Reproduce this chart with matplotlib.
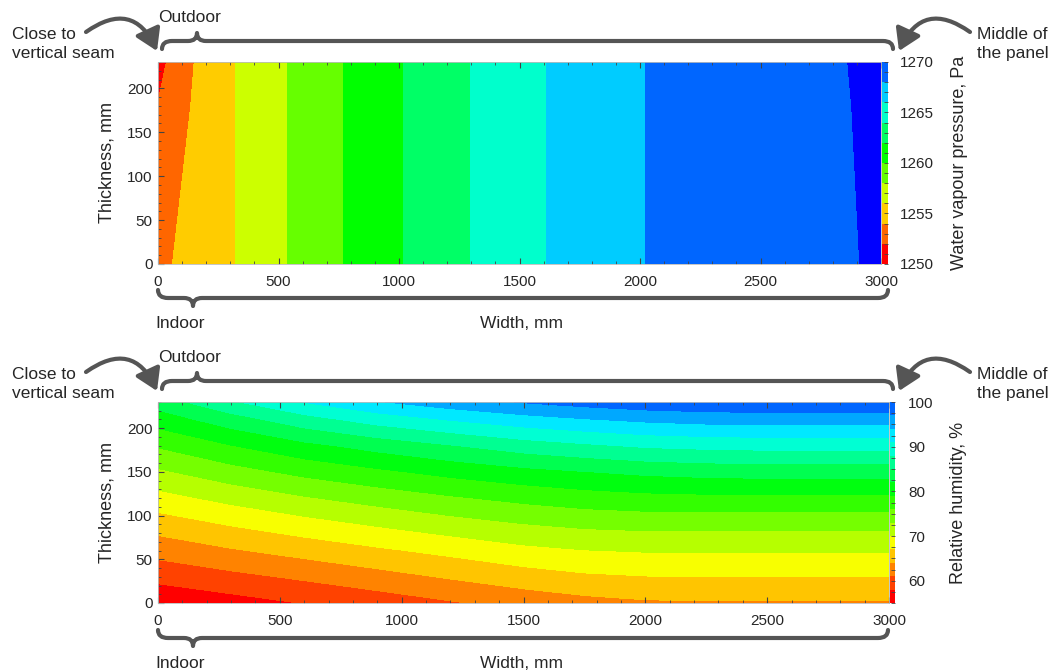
import numpy as np
import matplotlib
matplotlib.use('Agg')
from matplotlib import pyplot as plt
from matplotlib.colors import ListedColormap, BoundaryNorm, hsv_to_rgb
from matplotlib.path import Path
from matplotlib.patches import PathPatch, FancyArrowPatch
from matplotlib.ticker import MultipleLocator
import matplotlib.cm as cm

plt.rcParams['font.family'] = ['Liberation Sans', 'DejaVu Sans']
TXT = '#262626'
DECO = '#555555'

# water vapour pressure, Pa (rows = thickness, cols = width)
vp_width = [0, 35, 60, 150, 320, 537, 766, 1015, 1294, 1610, 2022, 2460, 2870, 2920, 3000]
vp_thick = [0, 180, 230]
vp_values = [
    [1252.6, 1253.2, 1254.0, 1254.7, 1256.0, 1258.0, 1260.0, 1262.0, 1264.0, 1266.0, 1268.0, 1269.0, 1269.9, 1270.02, 1270.3],
    [1252.1, 1252.7, 1253.2, 1254.15, 1256.0, 1258.0, 1260.0, 1262.0, 1264.0, 1266.0, 1268.0, 1269.0, 1269.98, 1270.1, 1270.35],
    [1251.0, 1252.0, 1252.6, 1254.0, 1256.0, 1258.0, 1260.0, 1262.0, 1264.0, 1266.0, 1268.0, 1269.0, 1270.02, 1270.15, 1270.4],
]
vp_levels = [1250, 1252, 1254, 1256, 1258, 1260, 1262, 1264, 1266, 1268, 1270]
vp_ticks = [1250, 1255, 1260, 1265, 1270]

# relative humidity, %
rh_width = [0, 300, 600, 900, 1200, 1500, 1750, 2000, 2250, 2500, 3000]
rh_thick = [0, 30, 60, 90, 120, 150, 180, 210, 230]
rh_values = [
    [55.5, 56.8, 58.1, 59.3, 60.7, 62.1, 63.0, 63.6, 63.7, 63.7, 63.7],
    [58.9, 60.2, 61.5, 62.9, 64.3, 65.6, 66.5, 66.9, 67.0, 67.0, 67.0],
    [62.1, 63.7, 65.1, 66.5, 67.8, 69.2, 69.9, 70.2, 70.2, 70.2, 70.2],
    [65.4, 67.2, 68.8, 70.3, 71.7, 72.9, 73.6, 73.9, 73.9, 73.9, 73.9],
    [68.9, 70.9, 72.7, 74.2, 75.6, 76.8, 77.6, 78.1, 78.3, 78.3, 78.3],
    [72.5, 74.8, 76.8, 78.4, 79.9, 81.1, 81.9, 82.6, 83.0, 83.2, 83.2],
    [76.3, 78.9, 81.2, 83.1, 84.8, 86.5, 87.5, 88.4, 88.8, 89.0, 89.0],
    [80.4, 83.6, 86.8, 89.3, 91.2, 92.8, 93.8, 94.6, 95.1, 95.3, 95.3],
    [83.4, 87.6, 91.1, 93.8, 95.7, 97.2, 98.2, 99.0, 99.4, 99.5, 99.5],
]
rh_levels = [55, 58, 61, 64, 67, 70, 73, 76, 79, 82, 85, 88, 91, 94, 97, 100]
rh_ticks = [60, 70, 80, 90, 100]


def rainbow(n, top_hue):
    hues = np.linspace(0, top_hue, n) / 360.0
    return [hsv_to_rgb((h, 1.0, 1.0)) for h in hues]


fig = plt.figure(figsize=(10.55, 6.72), dpi=100)
W, H = 1055.0, 672.0


def px_axes(x0, y0, x1, y1, **kw):
    return fig.add_axes([x0 / W, 1 - y1 / H, (x1 - x0) / W, (y1 - y0) / H], **kw)


def style_axes(ax):
    ax.set_xlim(0, 3000)
    ax.set_ylim(0, 230)
    ax.xaxis.set_major_locator(MultipleLocator(500))
    ax.xaxis.set_minor_locator(MultipleLocator(100))
    ax.yaxis.set_major_locator(MultipleLocator(50))
    ax.yaxis.set_minor_locator(MultipleLocator(10))
    ax.tick_params(which='both', direction='in', top=True, right=False,
                   colors='#444444', labelcolor=TXT, labelsize=11)
    ax.tick_params(which='major', length=4, width=0.8, pad=8)
    ax.tick_params(which='minor', length=2, width=0.6)
    ax.tick_params(axis='y', pad=4)
    for s in ax.spines.values():
        s.set_color('#bbbbbb')
        s.set_linewidth(0.6)
    ax.set_ylabel('Thickness, mm', fontsize=13, color=TXT, labelpad=8)


def style_cbar(cb, cax, label):
    cb.outline.set_visible(False)
    cax.tick_params(which='both', direction='in', colors='#444444',
                    labelcolor=TXT, labelsize=11, length=3, width=0.6, pad=9)
    cb.set_label(label, fontsize=13, color=TXT, labelpad=12)


# ---- top chart: vapour pressure
ax1 = px_axes(158, 62, 881, 264)
cmap1 = ListedColormap(rainbow(10, 216))
cmap1.set_over(hsv_to_rgb((240 / 360.0, 1, 1)))
cmap1.set_under('red')
ax1.contourf(vp_width, vp_thick, np.array(vp_values), levels=vp_levels,
             cmap=cmap1, extend='both')
style_axes(ax1)
cax1 = px_axes(881.5, 62, 887.5, 264)
sm1 = cm.ScalarMappable(norm=BoundaryNorm(vp_levels, 10), cmap=ListedColormap(rainbow(10, 216)))
cb1 = fig.colorbar(sm1, cax=cax1, ticks=vp_ticks)
cax1.yaxis.set_minor_locator(MultipleLocator(1))
style_cbar(cb1, cax1, 'Water vapour pressure, Pa')

# ---- bottom chart: relative humidity
ax2 = px_axes(158, 402, 889, 603)
cmap2 = ListedColormap(rainbow(15, 216))
ax2.contourf(rh_width, rh_thick, np.array(rh_values), levels=rh_levels, cmap=cmap2)
style_axes(ax2)
cax2 = px_axes(889.5, 402, 895.5, 603)
sm2 = cm.ScalarMappable(norm=BoundaryNorm(rh_levels, 15), cmap=cmap2)
cb2 = fig.colorbar(sm2, cax=cax2, ticks=rh_ticks)
cax2.yaxis.set_minor_locator(MultipleLocator(2.5))
style_cbar(cb2, cax2, 'Relative humidity, %')

# ---- overlay for braces, arrows and notes (pixel coordinates)
ov = px_axes(0, 0, W, H, zorder=-1)
ov.set_xlim(0, W)
ov.set_ylim(H, 0)
ov.axis('off')


def brace(y, x0, x1, xc, d):
    # d = 1: cusp upwards, ends hooking down; d = -1: the opposite
    h = 8
    verts = [(x0, y + h * d), (x0, y), (x0 + 10, y),
             (xc - 9, y), (xc, y), (xc, y - h * d),
             (xc, y), (xc + 9, y),
             (x1 - 10, y), (x1, y), (x1, y + h * d)]
    codes = [Path.MOVETO, Path.CURVE3, Path.CURVE3,
             Path.LINETO, Path.CURVE3, Path.CURVE3,
             Path.CURVE3, Path.CURVE3,
             Path.LINETO, Path.CURVE3, Path.CURVE3]
    ov.add_patch(PathPatch(Path(verts, codes), fill=False, lw=3.0,
                           edgecolor=DECO, capstyle='round', joinstyle='round'))


def curved_arrow(p0, p1, rad):
    ov.add_patch(FancyArrowPatch(p0, p1, connectionstyle='arc3,rad=%s' % rad,
                                 arrowstyle='-|>,head_length=0.8,head_width=0.5',
                                 mutation_scale=16, lw=3.0, color=DECO,
                                 shrinkA=0, shrinkB=0))


for off in (0, 340):
    ov.text(158, 17 + off, 'Outdoor', fontsize=12.5, color=TXT, va='center', ha='left')
    ov.text(12, 44 + off, 'Close to\nvertical seam', fontsize=12.5, color=TXT,
            va='center', ha='left', linespacing=1.3)
    ov.text(977, 44 + off, 'Middle of\nthe panel', fontsize=12.5, color=TXT,
            va='center', ha='left', linespacing=1.3)
    ov.text(155, 323 + off, 'Indoor', fontsize=12.5, color=TXT, va='center', ha='left')
    ov.text(522, 323 + off, 'Width, mm', fontsize=12.5, color=TXT, va='center', ha='center')
    brace(41 + off, 162, 893, 197, 1)
    brace(298 + off, 158, 888, 193, -1)
    curved_arrow((86, 32 + off), (157, 51 + off), -0.6)
    curved_arrow((970, 32 + off), (899, 51 + off), 0.6)

fig.savefig('out.png', dpi=100)
